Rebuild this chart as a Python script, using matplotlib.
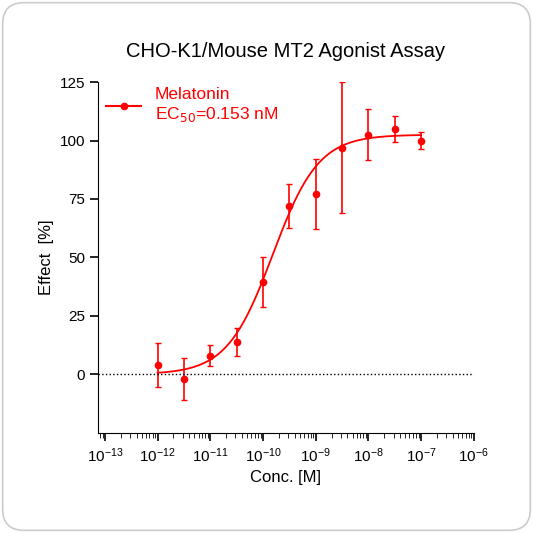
import matplotlib.pyplot as plt
import numpy as np
from matplotlib.patches import FancyBboxPatch
from matplotlib.ticker import LogLocator, NullFormatter

plt.rcParams['font.family'] = ['Liberation Sans', 'DejaVu Sans']

conc = 10.0 ** np.array([-12, -11.5, -11, -10.5, -10, -9.5, -9, -8.5, -8, -7.5, -7])
effect = [4, -2, 8, 14, 39.5, 72, 77, 97, 102.5, 105, 100]
err = [9.5, 9, 4.5, 6, 10.5, 9.5, 15, 28, 11, 5.5, 3.5]
ec50 = 0.153e-9
top, bottom, hill = 102.5, 0.0, 1.0

fig = plt.figure(figsize=(5.33, 5.33), dpi=100)
border = FancyBboxPatch((0.005, 0.005), 0.99, 0.99, boxstyle="round,pad=0,rounding_size=0.04",
                        transform=fig.transFigure, facecolor='white', edgecolor='#cccccc', lw=1.2, zorder=-10)
fig.patches.append(border)
ax = fig.add_axes([0.184, 0.188, 0.705, 0.658])
ax.patch.set_alpha(0)

xs = np.logspace(-12, -7, 300)
ys = bottom + (top - bottom) / (1 + (ec50 / xs) ** hill)
ax.plot(xs, ys, color='red', lw=1.3)
ax.errorbar(conc, effect, yerr=err, fmt='o', color='red', ms=4.5, capsize=2.5, elinewidth=1.2)
ax.axhline(0, color='black', ls=':', lw=1)
ax.plot([], [], 'o-', color='red', ms=4.5, label='Melatonin\nEC$_{50}$=0.153 nM')
leg = ax.legend(loc='upper left', frameon=False, fontsize=12.5, handlelength=2, bbox_to_anchor=(-0.02, 1.03))
for t in leg.get_texts():
    t.set_color('red')

ax.set_xscale('log')
ax.set_xlim(10 ** -13.13, 1e-6)
ax.set_ylim(-25, 125)
ax.set_yticks([0, 25, 50, 75, 100, 125])
ax.xaxis.set_major_locator(LogLocator(base=10, numticks=20))
ax.xaxis.set_minor_locator(LogLocator(base=10, subs=np.arange(2, 10), numticks=20))
ax.xaxis.set_minor_formatter(NullFormatter())
ax.spines['top'].set_visible(False)
ax.spines['right'].set_visible(False)
ax.tick_params(labelsize=11, width=1.2, length=6)
ax.tick_params(which='minor', length=3.5)
ax.set_xlabel('Conc. [M]', fontsize=12)
ax.set_ylabel('Effect  [%]', fontsize=12)
ax.set_title('CHO-K1/Mouse MT2 Agonist Assay', fontsize=14.5, pad=18)

fig.savefig('out.png')
